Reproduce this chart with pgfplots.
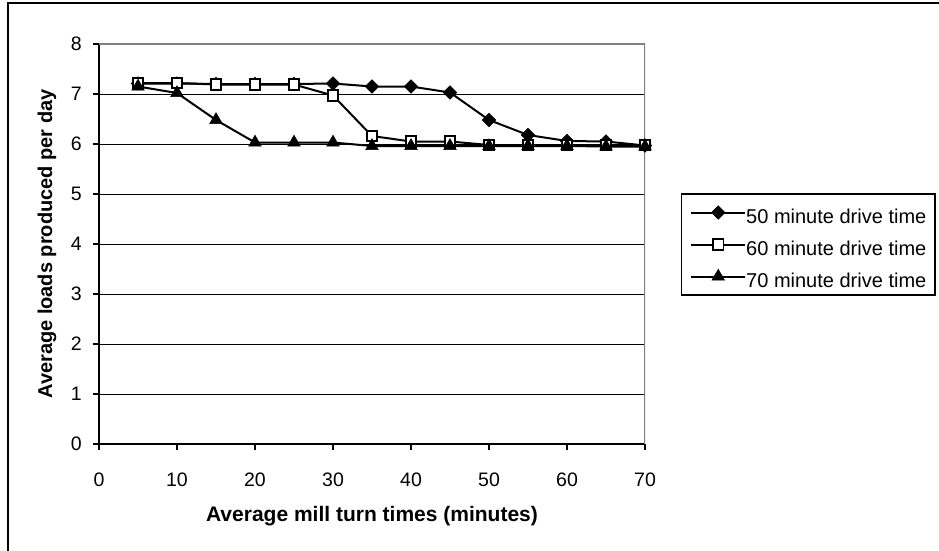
\documentclass[border=0pt]{standalone}
\usepackage{fontspec}
\setmainfont{Liberation Sans}
\usepackage{pgfplots}
\pgfplotsset{compat=1.18}

\definecolor{spinegray}{RGB}{128,128,128}

\begin{document}
\begin{tikzpicture}
\useasboundingbox (0pt,0pt) rectangle (939pt,550pt);
% chart frame
\draw[line width=2.5pt] (8pt,-5pt) -- (8pt,547pt) -- (945pt,547pt);
\begin{axis}[
  at={(99pt,106pt)}, anchor=south west,
  scale only axis, width=546pt, height=400pt,
  xmin=0, xmax=70, ymin=0, ymax=8,
  xtick={0,10,...,70}, ytick={0,1,...,8},
  axis x line*=bottom, axis y line*=left,
  axis line style={line width=2pt, black, -},
  tick align=outside, major tick length=6pt,
  tick style={line width=1.6pt, black},
  ymajorgrids, grid style={line width=1pt, black},
  /pgf/number format/assume math mode=true,
  tick label style={font=\fontsize{19.5}{23}\selectfont},
  yticklabel style={anchor=east, inner sep=0pt, xshift=-11pt},
  xticklabel style={anchor=north, inner sep=0pt, yshift=-23pt},
  xlabel={Average mill turn times (minutes)},
  ylabel={Average loads produced per day},
  xlabel style={font=\bfseries\fontsize{21}{24}\selectfont,
                at={(axis description cs:0.5,-0.194)}, anchor=base},
  ylabel style={font=\bfseries\fontsize{20}{24}\selectfont,
                at={(axis description cs:-0.086,0.5)}, anchor=base, rotate=0},
  legend style={
    at={(axis description cs:1.0659,0.6268)}, anchor=north west,
    draw=black, line width=1.5pt, fill=white,
    inner xsep=8.5pt, inner ysep=2.5pt, row sep=0pt,
    font=\fontsize{20}{24}\selectfont,
    nodes={inner xsep=0pt, inner ysep=0pt, text height=27.2pt, text depth=4.8pt},
    /tikz/every even column/.append style={column sep=4pt},
  },
  legend cell align=left,
  legend image code/.code={
    \draw[mark repeat=2, mark phase=2, #1]
      plot coordinates {(0pt,0pt) (27pt,0pt) (54pt,0pt)};
  },
  every axis plot/.append style={line width=2pt, black},
]
% grey top and right borders of the plot area
\draw[spinegray, line width=1.8pt] (rel axis cs:0,1) -- (rel axis cs:1,1) -- (rel axis cs:1,0);

\addplot[mark=square*, mark size=4.8pt, mark options={rotate=45, solid, fill=black, line width=0.5pt}]
  coordinates {(5,7.21) (10,7.21) (15,7.20) (20,7.20) (25,7.20) (30,7.21) (35,7.15)
               (40,7.15) (45,7.03) (50,6.48) (55,6.18) (60,6.06) (65,6.05) (70,5.97)};
\addlegendentry{50 minute drive time}

\addplot[mark=square*, mark size=5.2pt, mark options={solid, fill=white, draw=black, line width=1.8pt}]
  coordinates {(5,7.22) (10,7.22) (15,7.19) (20,7.19) (25,7.19) (30,6.97) (35,6.16)
               (40,6.05) (45,6.05) (50,5.98) (55,5.98) (60,5.98) (65,5.98) (70,5.98)};
\addlegendentry{60 minute drive time}

\addplot[mark=triangle*, mark size=7.3pt, mark options={solid, fill=black, line width=0.5pt}]
  coordinates {(5,7.15) (10,7.02) (15,6.48) (20,6.03) (25,6.03) (30,6.03) (35,5.96)
               (40,5.96) (45,5.96) (50,5.96) (55,5.96) (60,5.96) (65,5.95) (70,5.95)};
\addlegendentry{70 minute drive time}
\end{axis}
\end{tikzpicture}
\end{document}
